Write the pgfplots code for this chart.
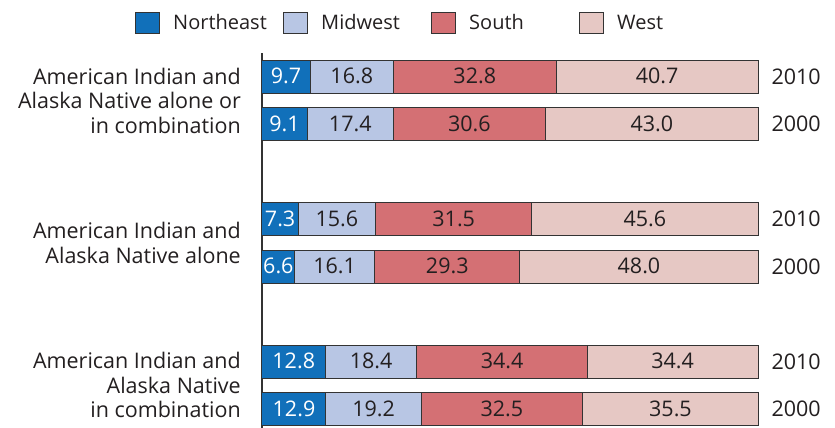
\documentclass[border=0pt]{standalone}
\usepackage{pgfplots}
\usepackage{pgfplotstable}
\pgfplotsset{compat=1.18}
\usepackage{fontspec}
\setmainfont{Open Sans}
\definecolor{ne}{HTML}{1170BA}
\definecolor{mw}{HTML}{B8C6E4}
\definecolor{so}{HTML}{D47074}
\definecolor{we}{HTML}{E6C8C4}
\definecolor{bd}{HTML}{333333}
\definecolor{tx}{HTML}{231F20}
\pgfplotstableread{
y NE MW S W
0 9.7 16.8 32.8 40.7
1 9.1 17.4 30.6 43.0
3 7.3 15.6 31.5 45.6
4 6.6 16.1 29.3 48.0
6 12.8 18.4 34.4 34.4
7 12.9 19.2 32.5 35.5
}\data
% label positions: middle of each segment
\pgfplotstablecreatecol[expr={\thisrow{NE}/2}]{mNE}\data
\pgfplotstablecreatecol[expr={\thisrow{NE}+\thisrow{MW}/2}]{mMW}\data
\pgfplotstablecreatecol[expr={\thisrow{NE}+\thisrow{MW}+\thisrow{S}/2}]{mS}\data
\pgfplotstablecreatecol[expr={\thisrow{NE}+\thisrow{MW}+\thisrow{S}+\thisrow{W}/2}]{mW}\data
\pgfplotsset{
  frame/.style={at={(262pt,0pt)}, anchor=south west, scale only axis,
    width=496pt, height=375pt,
    xmin=0, xmax=100, ymin=-0.5, ymax=7.4, y dir=reverse, clip=false},
  lab/.style={draw=none, mark=none, point meta=explicit symbolic,
    nodes near coords={\makebox[0pt]{\smash{\raisebox{-0.36em}{\pgfplotspointmeta}}}},
    every node near coord/.append style={inner sep=0pt, outer sep=0pt, text=#1}},
}
\begin{document}
\begin{tikzpicture}[font=\fontsize{21.5}{24.5}\selectfont]
\useasboundingbox (0,0) rectangle (835pt,428pt);
\begin{axis}[frame,
  xbar stacked, bar width=33pt,
  hide x axis, axis y line*=left,
  y axis line style={-, line width=1.3pt, color=bd},
  ytick={0.5,3.5,6.5},
  yticklabels={{American Indian and\\Alaska Native alone or\\in combination},{American Indian and\\Alaska Native alone},{American Indian and\\Alaska Native\\in combination}},
  yticklabel style={align=right, inner sep=0pt, xshift=-21pt, text=tx},
  major tick length=0pt,
  legend style={at={(axis description cs:-0.256,1.08)}, anchor=west, draw=none, fill=none,
    inner sep=0pt, legend columns=4, font=\fontsize{20}{24}\selectfont,
    /tikz/every odd column/.append style={column sep=11pt},
    /tikz/every even column/.append style={text width=108pt, align=left, text=tx}},
  legend image code/.code={\draw[#1, line width=1pt] (0pt,-10.5pt) rectangle (24pt,10.5pt);},
  every axis plot/.append style={draw=bd, line width=1pt},
]
\addplot[fill=ne] table[x=NE, y=y] {\data};
\addplot[fill=mw] table[x=MW, y=y] {\data};
\addplot[fill=so] table[x=S, y=y] {\data};
\addplot[fill=we] table[x=W, y=y] {\data};
\legend{Northeast, Midwest, South, West}
\node[anchor=west, text=tx] at (axis cs:100,0) [xshift=10pt] {2010};
\node[anchor=west, text=tx] at (axis cs:100,1) [xshift=10pt] {2000};
\node[anchor=west, text=tx] at (axis cs:100,3) [xshift=10pt] {2010};
\node[anchor=west, text=tx] at (axis cs:100,4) [xshift=10pt] {2000};
\node[anchor=west, text=tx] at (axis cs:100,6) [xshift=10pt] {2010};
\node[anchor=west, text=tx] at (axis cs:100,7) [xshift=10pt] {2000};
\end{axis}
\begin{axis}[frame, hide axis]
\addplot[lab=white] table[x=mNE, y=y, meta=NE] {\data};
\addplot[lab=tx] table[x=mMW, y=y, meta=MW] {\data};
\addplot[lab=tx] table[x=mS, y=y, meta=S] {\data};
\addplot[lab=tx] table[x=mW, y=y, meta=W] {\data};
\end{axis}
\end{tikzpicture}
\end{document}
